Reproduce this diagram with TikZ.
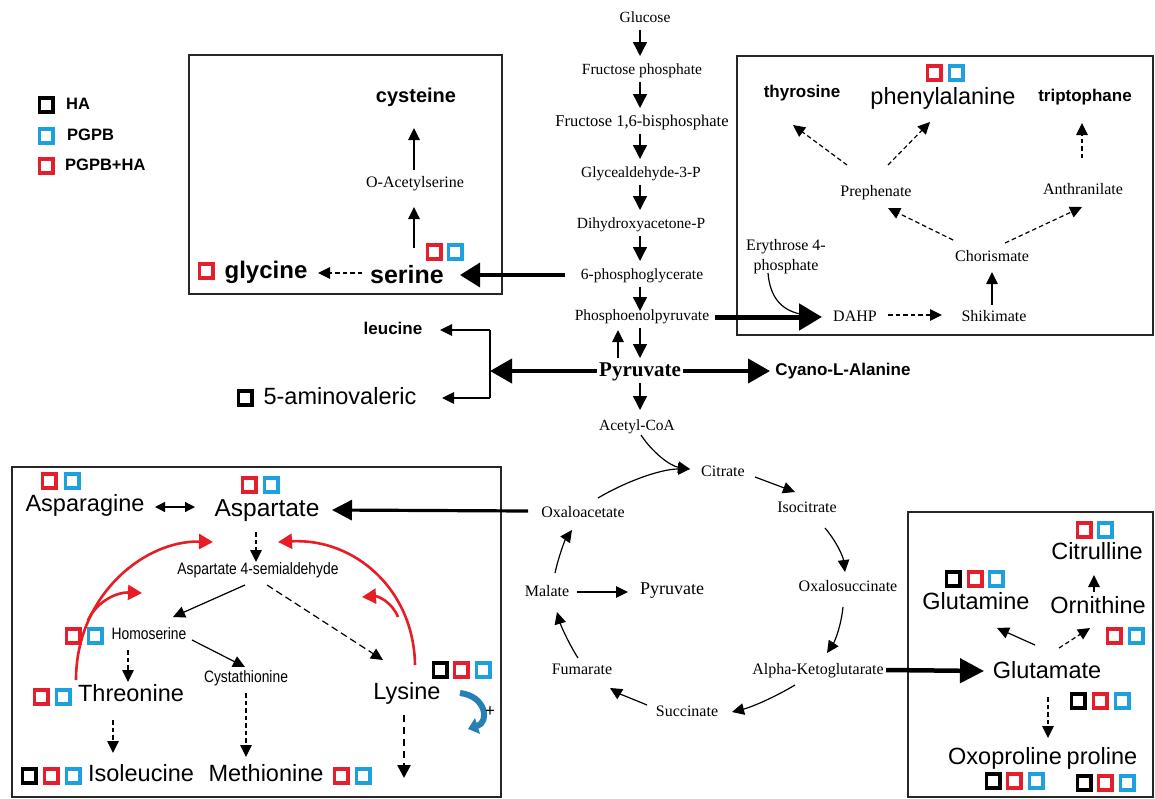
\documentclass[tikz,border=0pt]{standalone}
\usepackage{fontspec}
\setmainfont{Liberation Serif}
\setsansfont{Liberation Sans}
\newfontfamily\narrowsans[FakeStretch=0.84]{Liberation Sans}
\usetikzlibrary{arrows.meta,calc}
\definecolor{sqred}{RGB}{228,30,45}
\definecolor{sqblue}{RGB}{28,160,224}
\definecolor{arcred}{RGB}{232,28,36}
\definecolor{turnblue}{RGB}{38,128,182}
\definecolor{turndark}{RGB}{22,80,120}
\begin{document}
\begin{tikzpicture}[x=1pt,y=-1pt,
 tsz/.style={text height={0.72*#1pt}, text depth={0.2*#1pt}, inner sep=1pt},
 tser/.style={font=\fontsize{#1}{#1}\selectfont, tsz=#1}, tser/.default=16,
 tserb/.style={font=\bfseries\fontsize{#1}{#1}\selectfont, tsz=#1}, tserb/.default=21,
 tbs/.style={font=\sffamily\bfseries\fontsize{#1}{#1}\selectfont, tsz=#1}, tbs/.default=17,
 tbg/.style={font=\sffamily\fontsize{#1}{#1}\selectfont, tsz=#1}, tbg/.default=23.5,
 tnr/.style={font=\narrowsans\fontsize{#1}{#1}\selectfont, tsz=#1}, tnr/.default=16.5,
 sq/.style={draw, line width=3.5pt, minimum width=13.5pt, minimum height=14pt, inner sep=0pt},
 sqk/.style={sq, draw=black},
 sqr/.style={sq, draw=sqred},
 sqb/.style={sq, draw=sqblue},
 arr/.style={draw, line width=1.2pt, -{Triangle[length=12pt,width=11.5pt]}},
 colarr/.style={draw, line width=1.4pt, -{Triangle[length=14pt,width=14pt]}},
 darr/.style={arr, dash pattern=on 4.5pt off 3pt},
 fat/.style={draw, line width=4pt, -{Triangle[length=22pt,width=24pt]}},
 boxframe/.style={draw=black!85, line width=1.3pt},
 redarc/.style={draw=arcred, line width=2.6pt, -{Triangle[length=14pt,width=15pt]}},
 bluearr/.style={draw=turnblue, line width=6pt, -{Triangle[length=10pt,width=16pt]}},
]
\useasboundingbox (0,0) rectangle (1155,798);

% ---------- legend
\node[sqk] (lk) at (46,105) {};
\node[sqb] (lb) at (46,136) {};
\node[sqr] (lr) at (46,166) {};
\node[tbs=16.5, anchor=west] (tk) at (65,105) {HA};
\node[tbs=16.5, anchor=west] (tb) at (66,136) {PGPB};
\node[tbs=16.5, anchor=west] (tr) at (64,166) {PGPB+HA};

% ---------- central column
\node[tser=15.5] (glu) at (645,18) {Glucose};
\node[tser=15.5] (fp) at (642,70) {Fructose phosphate};
\node[tser=16.5] (fbp) at (642,122) {Fructose 1,6-bisphosphate};
\node[tser=15.5] (g3p) at (641,173) {Glycealdehyde-3-P};
\node[tser=15.5] (dhap) at (641,224) {Dihydroxyacetone-P};
\node[tser=15.5] (pg) at (642,275) {6-phosphoglycerate};
\node[tser=15.5] (pep) at (642,316) {Phosphoenolpyruvate};
\node[tserb] (pyr) at (640,371) {Pyruvate};
\node[tser=15.5] (acoa) at (637,426) {Acetyl-CoA};

\draw[colarr] ($(glu)+(-5,12)$) -- ($(fp)+(-2,-14)$);
\draw[colarr] ($(fp)+(-2,12)$) -- ($(fbp)+(-2,-14)$);
\draw[colarr] ($(fbp)+(-2,12)$) -- ($(g3p)+(-1,-14)$);
\draw[colarr] ($(g3p)+(-1,12)$) -- ($(dhap)+(-1,-14)$);
\draw[colarr] ($(dhap)+(-1,12)$) -- ($(pg)+(-2,-14)$);
\draw[colarr] ($(pg)+(-2,12)$) -- ($(pep)+(-2,-5)$);
\draw[colarr] ($(pep)+(-2,12)$) -- ($(pyr)+(0,-13)$);
\draw[arr] ($(pyr)+(-22,-13)$) -- ($(pep)+(-24,14)$);
\draw[colarr] ($(pyr)+(0,12)$) -- ($(acoa)+(3,-16)$);

% ---------- top-left box
\draw[boxframe] (189,55) rectangle (502,294);
\node[tbs=20] (cys) at (416,97) {cysteine};
\node[tser] (oas) at (415,183) {O-Acetylserine};
\node[tbs=25] (srn) at (407,277) {serine};
\node[tbs=24] (gly) at (266,272) {glycine};
\node[sqr] (q1) at (206,271) {};
\node[sqr] (q2) at (434,252) {};
\node[sqb] (q3) at (455,252) {};
\draw[arr] ($(srn)+(7,-29)$) -- ($(oas)+(-1,24)$);
\draw[arr] ($(oas)+(-1,-13)$) -- ($(cys)+(-2,31)$);
\draw[darr] ($(srn)+(-45,-4)$) -- ($(gly)+(52,1)$);
\draw[fat, line width=3.5pt, -{Triangle[length=20pt,width=24pt]}] ($(pg)+(-77,0)$) -- ($(srn)+(53,-2)$);

% ---------- pyruvate branches
\node[tbs] (cya) at (843,371) {Cyano-L-Alanine};
\draw[fat] ($(pyr)+(43,0)$) -- ($(cya)+(-73,0)$);
\coordinate (br) at (490,371);
\coordinate (brt) at (490,330);
\coordinate (brb) at (490,398);
\draw[fat] ($(pyr)+(-43,0)$) -- (br);
\draw[line width=1.2pt] (brt) -- (brb);
\node[tbs] (leu) at (393,330) {leucine};
\node[tbg] (amv) at (340,398) {5-aminovaleric};
\node[sqk] (q0) at (245,398) {};
\draw[arr] (brt) -- ($(leu)+(47,0)$);
\draw[arr] (brb) -- ($(amv)+(102,0)$);

% ---------- top-right box
\draw[boxframe] (737,56) rectangle (1153,335);
\node[tbs] (thy) at (802,93) {thyrosine};
\node[tbg] (phe) at (943,98) {phenylalanine};
\node[sqr] (q4) at (934,73) {};
\node[sqb] (q5) at (956,73) {};
\node[tbs] (tri) at (1085,97) {triptophane};
\node[tser] (preph) at (876,192) {Prephenate};
\node[tser] (anth) at (1083,190) {Anthranilate};
\node[tser] (chor) at (992,257) {Chorismate};
\node[font=\fontsize{16}{20}\selectfont, align=center, inner sep=1pt] (ery) at (786,257) {Erythrose 4-\\phosphate};
\node[tser] (dahp) at (855,317) {DAHP};
\node[tser] (shik) at (994,317) {Shikimate};
\draw[darr] ($(preph)+(-29,-27)$) -- ($(thy)+(-9,32)$);
\draw[darr] ($(preph)+(12,-27)$) -- ($(phe)+(-13,24)$);
\draw[darr] ($(anth)+(-1,-32)$) -- ($(tri)+(-3,26)$);
\draw[darr] ($(chor)+(-39,-17)$) -- ($(preph)+(12,16)$);
\draw[darr] ($(chor)+(13,-14)$) -- ($(anth)+(-1,17)$);
\draw[arr] ($(shik)+(-2,-12)$) -- ($(chor)+(0,15)$);
\draw[darr] ($(dahp)+(33,-2)$) -- ($(shik)+(-52,-2)$);
\draw[fat, line width=5pt, -{Triangle[length=23pt,width=26pt]}] ($(pep)+(73,1)$) -- ($(dahp)+(-33,0)$);
\coordinate (erin) at (800,314);
\draw[line width=1.2pt] ($(ery)+(-18,16)$) .. controls (770,298) and (782,310) .. (erin);

% ---------- TCA cycle
\node[tser] (cit) at (723,472) {Citrate};
\node[tser] (iso) at (807,508) {Isocitrate};
\node[tser] (oxs) at (848,587) {Oxalosuccinate};
\node[tser] (akg) at (818,670) {Alpha-Ketoglutarate};
\node[tser] (suc) at (687,712) {Succinate};
\node[tser] (fum) at (582,670) {Fumarate};
\node[tser] (mal) at (547,592) {Malate};
\node[tser=18] (pyr2) at (672,590) {Pyruvate};
\node[tser] (oaa) at (583,513) {Oxaloacetate};
\draw[arr] ($(acoa)+(4,9)$) .. controls (652,452) and (670,466) .. ($(cit)+(-33,-3)$);
\draw[arr] ($(cit)+(32,5)$) -- ($(iso)+(-12,-16)$);
\draw[arr] ($(iso)+(18,20)$) .. controls (836,541) and (843,556) .. ($(oxs)+(-3,-15)$);
\draw[arr] ($(oxs)+(-5,20)$) .. controls (841,626) and (835,641) .. ($(akg)+(9,-17)$);
\draw[arr] ($(akg)+(-23,15)$) .. controls (775,697) and (752,707) .. ($(suc)+(45,0)$);
\draw[arr] ($(suc)+(-40,-7)$) .. controls (635,700) and (620,694) .. ($(fum)+(28,18)$);
\draw[arr] ($(fum)+(-4,-12)$) .. controls (569,644) and (561,626) .. ($(mal)+(10,20)$);
\draw[arr] ($(mal)+(30,0)$) -- ($(pyr2)+(-44,2)$);
\draw[arr] ($(mal)+(8,-19)$) .. controls (559,555) and (565,540) .. ($(oaa)+(-11,17)$);
\draw[arr] ($(oaa)+(15,-15)$) .. controls (625,482) and (660,469) .. ($(cit)+(-33,-3)$);

% ---------- bottom-left box
\draw[boxframe] (12,467) rectangle (501,797);
\node[tbg] (asn) at (85,505) {Asparagine};
\node[sqr] (q6) at (49,481) {};
\node[sqb] (q7) at (72,481) {};
\node[tbg=24.5] (asp) at (267,510) {Aspartate};
\node[sqr] (q8) at (249,485) {};
\node[sqb] (q9) at (271,485) {};
\draw[{Triangle[length=10pt,width=10pt]}-{Triangle[length=10pt,width=10pt]}, line width=1.2pt] ($(asn)+(70,2)$) -- ($(asp)+(-72,-3)$);
\draw[fat, line width=3.2pt, -{Triangle[length=20pt,width=20pt]}] ($(oaa)+(-55,-2)$) -- ($(asp)+(65,0)$);
\node[tnr] (asa) at (258,570) {Aspartate 4-semialdehyde};
\node[tnr] (hom) at (149,635) {Homoserine};
\node[sqr] (q10) at (73,636) {};
\node[sqb] (q11) at (95,636) {};
\node[tnr] (cysta) at (246,678) {Cystathionine};
\node[tbg] (thr) at (131,695) {Threonine};
\node[sqr] (q12) at (41,697) {};
\node[sqb] (q13) at (63,697) {};
\node[tbg] (ile) at (141,775) {Isoleucine};
\node[sqk] (q14) at (29,776) {};
\node[sqr] (q15) at (51,776) {};
\node[sqb] (q16) at (73,776) {};
\node[tbg] (met) at (266,775) {Methionine};
\node[sqr] (q17) at (341,776) {};
\node[sqb] (q18) at (363,776) {};
\node[tbg] (lys) at (407,693) {Lysine};
\node[sqk] (q19) at (440,670) {};
\node[sqr] (q20) at (461,670) {};
\node[sqb] (q21) at (483,670) {};
\draw[darr] ($(asp)+(-11,22)$) -- ($(asa)+(-2,-8)$);
\draw[arr] ($(asa)+(-13,15)$) -- ($(hom)+(24,-18)$);
\draw[darr, dash pattern=on 7pt off 4pt] ($(asa)+(9,15)$) -- ($(lys)+(-24,-33)$);
\draw[arr] ($(hom)+(43,5)$) -- ($(cysta)+(-1,-11)$);
\draw[darr] ($(hom)+(-21,15)$) -- ($(thr)+(-3,-13)$);
\draw[darr] ($(thr)+(-18,25)$) -- ($(ile)+(-28,-22)$);
\draw[darr] ($(cysta)+(0,15)$) -- ($(met)+(-20,-18)$);
\coordinate (lysout) at (404,778);
\draw[darr, line width=2.6pt, dash pattern=on 7pt off 5pt, -{Triangle[length=13pt,width=13pt]}] ($(lys)+(-3,22)$) -- (lysout);
\draw[redarc] ($(thr)+(-55,-15)$) .. controls (76,595) and (145,540) .. ($(asp)+(-54,32)$);
\draw[redarc] (88,620) .. controls (98,600) and (118,592) .. (142,593);
\draw[redarc] ($(lys)+(8,-28)$) .. controls (414,590) and (355,538) .. ($(asp)+(11,32)$);
\draw[redarc] (398,617) .. controls (392,602) and (378,596) .. (362,597);
\draw[bluearr] (460,693) .. controls (486,696) and (490,722) .. (468,729);
\node[font=\sffamily\fontsize{17}{17}\selectfont, inner sep=0pt] (plus) at (490,712) {+};

% ---------- bottom-right box
\draw[boxframe] (908,512) rectangle (1153,797);
\node[tbg] (glut) at (1047,672) {Glutamate};
\draw[fat, line width=4.5pt, -{Triangle[length=24pt,width=24pt]}] ($(akg)+(68,0)$) -- ($(glut)+(-63,-1)$);
\node[tbg] (citr) at (1097,553) {Citrulline};
\node[sqr] (q22) at (1084,530) {};
\node[sqb] (q23) at (1105,530) {};
\node[tbg] (orn) at (1098,607) {Ornithine};
\node[sqr] (q24) at (1114,636) {};
\node[sqb] (q25) at (1136,636) {};
\node[tbg] (glnm) at (976,603) {Glutamine};
\node[sqk] (q26) at (953,579) {};
\node[sqr] (q27) at (975,579) {};
\node[sqb] (q28) at (996,579) {};
\node[sqk] (q29) at (1078,701) {};
\node[sqr] (q30) at (1100,701) {};
\node[sqb] (q31) at (1122,701) {};
\node[tbg] (oxo) at (1005,758) {Oxoproline};
\node[tbg] (pro) at (1102,758) {proline};
\node[sqk] (q32) at (993,781) {};
\node[sqr] (q33) at (1014,781) {};
\node[sqb] (q34) at (1036,781) {};
\node[sqk] (q35) at (1084,783) {};
\node[sqr] (q36) at (1105,783) {};
\node[sqb] (q37) at (1127,783) {};
\draw[arr] ($(orn)+(-4,-15)$) -- ($(citr)+(-3,22)$);
\draw[arr] ($(glut)+(-12,-27)$) -- ($(glnm)+(21,25)$);
\draw[darr] ($(glut)+(12,-24)$) -- ($(orn)+(-8,21)$);
\draw[darr] ($(glut)+(1,25)$) -- ($(oxo)+(43,-20)$);
\end{tikzpicture}
\end{document}
